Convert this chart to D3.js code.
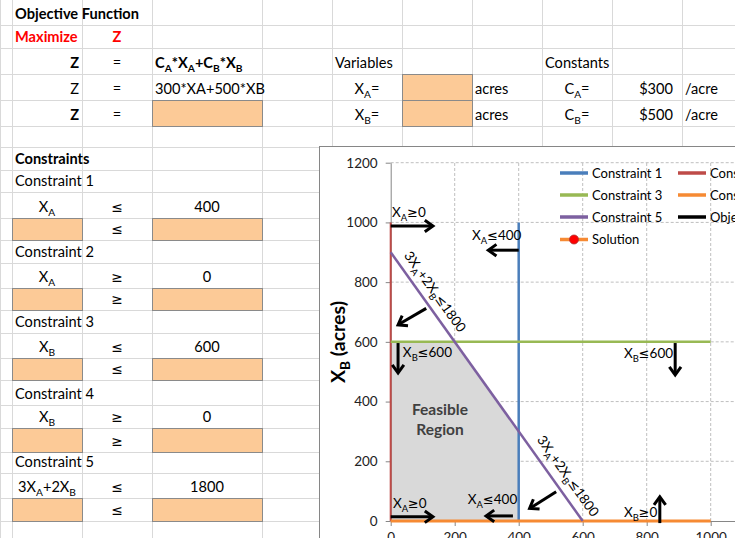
<!DOCTYPE html>
<html><head><meta charset="utf-8">
<script src="https://cdn.jsdelivr.net/npm/d3@7"></script>
<style>
html,body{margin:0;padding:0;background:#fff;}
svg{display:block;font-family:Lato,"Open Sans",sans-serif;}
</style></head>
<body>
<svg id="c" width="735" height="538"></svg>
<script>
// ---------- data ----------
const xTicks = [0, 200, 400, 600, 800, 1000, 1200];
const yTicks = [0, 200, 400, 600, 800, 1000, 1200];
const seriesNames = ["Constraint 1", "Constraint 2", "Constraint 3", "Constraint 4", "Constraint 5", "Objective Function", "Solution"];
const c1X = [400, 400], c1Y = [0, 1000];
const c2X = [0, 0],     c2Y = [0, 1000];
const c3X = [0, 1000],  c3Y = [600, 600];
const c4X = [0, 1000],  c4Y = [0, 0];
const c5X = [0, 600],   c5Y = [900, 0];
const feasibleX = [0, 0, 200, 400, 400];
const feasibleY = [0, 600, 600, 300, 0];
const constraintLabel = "3X_A+2X_B≤1800";
const labelXAge = "X_A≥0", labelXAle = "X_A≤400", labelXBle = "X_B≤600", labelXBge = "X_B≥0";

// spreadsheet content
const rowEdges = [-2, 25, 48, 74, 100, 126, 147, 170, 192, 218, 240, 263, 288, 310, 333, 358, 380, 405, 428, 452, 473, 498, 521, 545];
const colEdges = [0, 12, 82, 152, 262, 332, 402, 472, 542, 612, 682, 752];
// [row, col, text, align, bold, color]
const cells = [
  [0, 1, "Objective Function", "start", true],
  [1, 1, "Maximize", "start", true, "#ff0000"],
  [1, 2, "Z", "middle", true, "#ff0000"],
  [2, 1, "Z", "end", true], [2, 2, "=", "middle"], [2, 3, "C_A*X_A+C_B*X_B", "start", true],
  [2, 5, "Variables", "start"], [2, 8, "Constants", "start"],
  [3, 1, "Z", "end"], [3, 2, "=", "middle"], [3, 3, "300*XA+500*XB", "start"],
  [3, 5, "X_A=", "middle"], [3, 7, "acres", "start"], [3, 8, "C_A=", "middle"], [3, 9, "$300", "end"], [3, 10, "/acre", "start"],
  [4, 1, "Z", "end", true], [4, 2, "=", "middle"],
  [4, 5, "X_B=", "middle"], [4, 7, "acres", "start"], [4, 8, "C_B=", "middle"], [4, 9, "$500", "end"], [4, 10, "/acre", "start"],
  [6, 1, "Constraints", "start", true],
  [7, 1, "Constraint 1", "start"],
  [8, 1, "X_A", "middle"], [8, 2, "≤", "middle"], [8, 3, "400", "middle"],
  [9, 2, "≤", "middle"],
  [10, 1, "Constraint 2", "start"],
  [11, 1, "X_A", "middle"], [11, 2, "≥", "middle"], [11, 3, "0", "middle"],
  [12, 2, "≥", "middle"],
  [13, 1, "Constraint 3", "start"],
  [14, 1, "X_B", "middle"], [14, 2, "≤", "middle"], [14, 3, "600", "middle"],
  [15, 2, "≤", "middle"],
  [16, 1, "Constraint 4", "start"],
  [17, 1, "X_B", "middle"], [17, 2, "≥", "middle"], [17, 3, "0", "middle"],
  [18, 2, "≥", "middle"],
  [19, 1, "Constraint 5", "start"],
  [20, 1, "3X_A+2X_B", "middle"], [20, 2, "≤", "middle"], [20, 3, "1800", "middle"],
  [21, 2, "≤", "middle"]
];
const orangeCells = [[4,3],[3,6],[4,6],[9,1],[9,3],[12,1],[12,3],[15,1],[15,3],[18,1],[18,3],[21,1],[21,3]];

// ---------- helpers ----------
const svg = d3.select("#c");
function rich(t, str, size) {
  const parts = str.split(/(_[A-Za-z]|[≤≥])/).filter(s => s.length);
  let sub = false;
  parts.forEach(p => {
    if (p[0] === "_" && p.length === 2) {
      t.append("tspan").attr("dy", size * 0.28).attr("font-size", size * 0.7).text(p.slice(1));
      sub = true;
    } else if (p === "≤" || p === "≥") {
      t.append("tspan").attr("dy", sub ? -size * 0.28 : 0)
        .attr("font-family", "'DejaVu Sans',sans-serif").attr("font-weight", "normal")
        .attr("font-size", size * 0.95).text(p);
      sub = false;
    } else {
      t.append("tspan").attr("dy", sub ? -size * 0.28 : 0).text(p);
      sub = false;
    }
  });
  return t;
}

// ---------- spreadsheet ----------
svg.append("rect").attr("width", 735).attr("height", 538).attr("fill", "#fff");
const grid = svg.append("g").attr("stroke", "#d9d9d9").attr("stroke-width", 1);
rowEdges.forEach(r => grid.append("line").attr("x1", 0).attr("x2", 735).attr("y1", r + 0.5).attr("y2", r + 0.5));
colEdges.forEach(c => grid.append("line").attr("y1", 0).attr("y2", 538).attr("x1", c + 0.5).attr("x2", c + 0.5));

svg.append("g").selectAll("rect").data(orangeCells).join("rect")
  .attr("x", d => colEdges[d[1]] + 0.5).attr("y", d => rowEdges[d[0]] + 0.5)
  .attr("width", d => colEdges[d[1] + 1] - colEdges[d[1]])
  .attr("height", d => rowEdges[d[0] + 1] - rowEdges[d[0]])
  .attr("fill", "#fcca97").attr("stroke", "#8a8a8a");

const fs = 14.6;
cells.forEach(([r, c, txt, al, bold, col]) => {
  const x0 = colEdges[c], x1 = colEdges[c + 1];
  const x = al === "start" ? x0 + 3 : al === "end" ? x1 - 3 - (c === 9 ? 6 : 0) : (x0 + x1) / 2;
  const t = svg.append("text").attr("x", x).attr("y", rowEdges[r + 1] - 6.5)
    .attr("text-anchor", al).attr("font-size", fs)
    .attr("font-weight", bold ? "bold" : "normal").attr("fill", col || "#000");
  rich(t, txt, fs);
});

// ---------- chart ----------
const ch = svg.append("g");
ch.append("rect").attr("x", 319.5).attr("y", 146.5).attr("width", 600).attr("height", 600)
  .attr("fill", "#fff").attr("stroke", "#868686");

const x = d3.scaleLinear().domain([0, 1200]).range([390.7, 774.7]);
const y = d3.scaleLinear().domain([0, 1200]).range([521, 162.7]);

// gridlines
ch.append("g").selectAll("line").data(yTicks.filter(v => v > 0)).join("line")
  .attr("x1", x(0)).attr("x2", x(1200)).attr("y1", d => y(d)).attr("y2", d => y(d))
  .attr("stroke", "#bfbfbf").attr("stroke-dasharray", "3,2");
ch.append("g").selectAll("line").data(xTicks.filter(v => v > 0)).join("line")
  .attr("y1", y(0)).attr("y2", y(1200)).attr("x1", d => x(d)).attr("x2", d => x(d))
  .attr("stroke", "#bfbfbf").attr("stroke-dasharray", "3,2");

// feasible region
ch.append("path").datum(d3.zip(feasibleX, feasibleY))
  .attr("d", d3.line().x(d => x(d[0])).y(d => y(d[1])).curve(d3.curveLinearClosed))
  .attr("fill", "#d9d9d9");

// axes
const fmt = d3.format("d");
const ya = ch.append("g").attr("transform", `translate(${x(0)},0)`)
  .call(d3.axisLeft(y).tickValues(yTicks).tickFormat(fmt).tickSize(5).tickSizeOuter(0).tickPadding(8));
const xa = ch.append("g").attr("transform", `translate(0,${y(0)})`)
  .call(d3.axisBottom(x).tickValues(xTicks).tickFormat(fmt).tickSize(5).tickSizeOuter(0).tickPadding(6));
[ya, xa].forEach(a => {
  a.selectAll("path,line").attr("stroke", "#868686");
  a.selectAll("text").attr("font-size", 13.5).attr("fill", "#222").attr("font-family", "Lato,sans-serif");
});

// constraint lines
const lineGen = d3.line().x(d => x(d[0])).y(d => y(d[1]));
const series = [
  { n: seriesNames[0], xs: c1X, ys: c1Y, c: "#4a7ebb", w: 2.5 },
  { n: seriesNames[1], xs: c2X, ys: c2Y, c: "#be4b48", w: 2 },
  { n: seriesNames[2], xs: c3X, ys: c3Y, c: "#98b954", w: 2.5 },
  { n: seriesNames[3], xs: c4X, ys: c4Y, c: "#f68a33", w: 2.8 },
  { n: seriesNames[4], xs: c5X, ys: c5Y, c: "#7d60a0", w: 2.5 }
];
series.forEach(s => {
  ch.append("path").datum(d3.zip(s.xs, s.ys)).attr("d", lineGen)
    .attr("fill", "none").attr("stroke", s.c).attr("stroke-width", s.w);
});

// axis title
const yt = ch.append("text").attr("transform", "translate(345,342) rotate(-90)")
  .attr("text-anchor", "middle").attr("font-size", 19.5).attr("font-weight", "bold").attr("fill", "#000");
rich(yt, "X_B (acres)", 19.5);

// legend
const legendCols = [560, 678];
const legendRows = [173, 195, 217, 239.5];
const legendColors = ["#4a7ebb", "#be4b48", "#98b954", "#f68a33", "#7d60a0", "#000000", "#f68a33"];
const lg = ch.append("g");
seriesNames.forEach((n, i) => {
  const cx = legendCols[i % 2], cy = legendRows[Math.floor(i / 2)];
  lg.append("line").attr("x1", cx).attr("x2", cx + 28).attr("y1", cy).attr("y2", cy)
    .attr("stroke", legendColors[i]).attr("stroke-width", 3.5);
  if (n === "Solution") {
    lg.append("circle").attr("cx", cx + 14).attr("cy", cy).attr("r", 4.5)
      .attr("fill", "#ff0000").attr("stroke", "#a33").attr("stroke-width", 0.8);
  }
  lg.append("text").attr("x", cx + 32).attr("y", cy + 4.5).attr("font-size", 13).attr("fill", "#000").text(n);
});

// annotations
function arrow(x1, y1, x2, y2) {
  const px1 = x(x1), py1 = y(y1), px2 = x(x2), py2 = y(y2);
  const a = Math.atan2(py2 - py1, px2 - px1);
  const L = 10, sp = 0.62;
  const g = ch.append("g").attr("stroke", "#000").attr("stroke-width", 3).attr("fill", "none");
  g.append("line").attr("x1", px1).attr("y1", py1).attr("x2", px2 - Math.cos(a) * 1.5).attr("y2", py2 - Math.sin(a) * 1.5);
  g.append("path").attr("stroke-linejoin", "miter")
    .attr("d", `M${px2 - L * Math.cos(a - sp)},${py2 - L * Math.sin(a - sp)} L${px2},${py2} L${px2 - L * Math.cos(a + sp)},${py2 - L * Math.sin(a + sp)}`);
}
function label(dx, dy, str) {
  const t = ch.append("text").attr("x", x(dx)).attr("y", y(dy)).attr("font-size", 13.5).attr("fill", "#000");
  rich(t, str, 13.5);
}
label(4, 1019, labelXAge);   arrow(0, 988, 132, 988);
label(254, 941, labelXAle);  arrow(400, 907, 305, 907);
arrow(111, 712, 23, 657);
label(38, 549, labelXBle);   arrow(23, 596, 23, 496);
label(729, 546, labelXBle);  arrow(889, 596, 889, 489);
arrow(517, 98, 434, 42);
label(7, 43, labelXAge);     arrow(0, 14, 132, 14);
label(241, 57, labelXAle);   arrow(382, 17, 298, 17);
label(729, 14, labelXBge);   arrow(841, -7, 841, 81);

// rotated constraint labels along the constraint 5 line
const ang = Math.atan2(y(c5Y[1]) - y(c5Y[0]), x(c5X[1]) - x(c5X[0])) * 180 / Math.PI;
[[105, -8.5], [518, -9.5]].forEach(([dx, off]) => {
  const dy = (1800 - 3 * dx) / 2;
  const t = ch.append("text").attr("transform", `translate(${x(dx)},${y(dy)}) rotate(${ang})`)
    .attr("x", 0).attr("y", off).attr("text-anchor", "middle").attr("font-size", 13.5).attr("fill", "#000");
  rich(t, constraintLabel, 13.5);
});

// feasible region label
const fr = ch.append("text").attr("text-anchor", "middle").attr("font-size", 15.5)
  .attr("font-weight", "bold").attr("fill", "#404040");
fr.append("tspan").attr("x", x(154)).attr("y", y(355)).text("Feasible");
fr.append("tspan").attr("x", x(154)).attr("y", y(288)).text("Region");
</script>
</body></html>
